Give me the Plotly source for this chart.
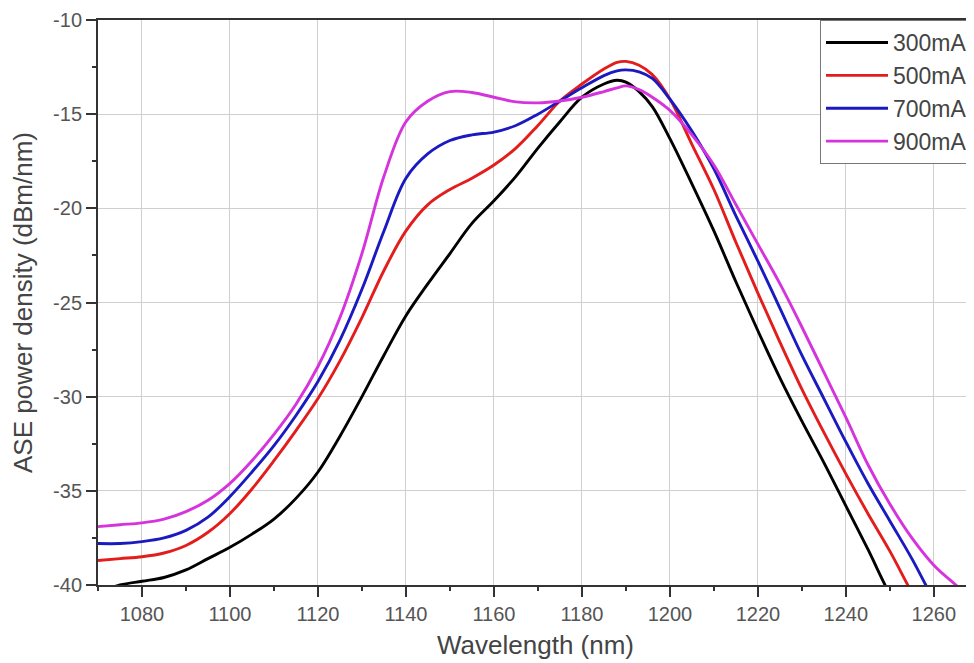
import plotly.graph_objects as go

wavelength = [1070, 1075, 1080, 1085, 1090, 1095, 1100, 1105, 1110, 1115, 1120, 1125, 1130, 1135,
              1140, 1145, 1150, 1155, 1160, 1165, 1170, 1175, 1180, 1185, 1188, 1190, 1193, 1196,
              1200, 1205, 1210, 1215, 1220, 1225, 1230, 1235, 1240, 1245, 1250, 1255, 1260, 1265, 1270]

p300 = [-40.4, -40.0, -39.8, -39.6, -39.2, -38.6, -38.0, -37.3, -36.5, -35.4, -34.0, -32.1, -30.0, -27.8,
        -25.7, -24.0, -22.4, -20.8, -19.6, -18.3, -16.8, -15.4, -14.1, -13.4, -13.2, -13.3, -13.8, -14.6,
        -16.3, -18.7, -21.2, -23.9, -26.5, -29.0, -31.3, -33.5, -35.8, -38.1, -40.5, -42.5, -44.5, -46.5, -48.5]

p500 = [-38.7, -38.6, -38.5, -38.3, -37.9, -37.2, -36.2, -34.9, -33.4, -31.8, -30.1, -28.1, -25.8, -23.3,
        -21.2, -19.8, -19.0, -18.4, -17.7, -16.8, -15.6, -14.3, -13.4, -12.6, -12.25, -12.2, -12.4, -12.9,
        -14.2, -16.6, -19.0, -21.8, -24.5, -27.1, -29.6, -31.9, -34.1, -36.2, -38.2, -40.4, -42.4, -44.4, -46.4]

p700 = [-37.8, -37.8, -37.7, -37.5, -37.1, -36.4, -35.3, -34.0, -32.6, -31.0, -29.2, -27.0, -24.3, -21.2,
        -18.4, -17.1, -16.4, -16.1, -15.95, -15.6, -15.0, -14.3, -13.6, -12.95, -12.7, -12.65, -12.75, -13.1,
        -14.2, -15.9, -17.9, -20.4, -22.8, -25.3, -27.8, -30.1, -32.4, -34.6, -36.6, -38.6, -40.8, -42.8, -44.8]

p900 = [-36.9, -36.8, -36.7, -36.5, -36.1, -35.5, -34.6, -33.4, -32.0, -30.4, -28.4, -25.8, -22.4, -18.3,
        -15.4, -14.3, -13.8, -13.85, -14.1, -14.35, -14.4, -14.3, -14.1, -13.8, -13.6, -13.5, -13.7, -14.1,
        -14.8, -16.1, -17.7, -19.8, -21.9, -24.0, -26.3, -28.7, -31.1, -33.6, -35.7, -37.5, -38.95, -40.0, -41.0]

series_names = ["300mA", "500mA", "700mA", "900mA"]
series_values = [p300, p500, p700, p900]
series_colors = ["#000000", "#e31c1c", "#1a1ac0", "#d534dc"]

x_ticks = [1080, 1100, 1120, 1140, 1160, 1180, 1200, 1220, 1240, 1260]
y_ticks = [-40, -35, -30, -25, -20, -15, -10]
y_tick_text = ["-40", "-35", "-30", "-25", "-20", "-15", "-10"]

fig = go.Figure()
for name, vals, col in zip(series_names, series_values, series_colors):
    fig.add_trace(go.Scatter(x=wavelength, y=vals, mode="lines", name=name,
                             line=dict(color=col, width=2.9, shape="spline", smoothing=1.0)))

axis_common = dict(
    showline=True, linecolor="#333333", linewidth=2, mirror=True,
    showgrid=True, gridcolor="#cfcfcf", gridwidth=1,
    ticks="outside", ticklen=10, tickwidth=1.5, tickcolor="#333333",
    tickfont=dict(family="Liberation Sans, Arial, sans-serif", size=20, color="#555555"),
    zeroline=False, automargin=False,
)

# page body has an 8px margin, so the figure is offset by 8px inside the 974x663 window
fig.update_layout(
    width=966, height=655,
    paper_bgcolor="white", plot_bgcolor="white",
    margin=dict(l=90, r=1, t=12, b=78),
    font=dict(family="Liberation Sans, Arial, sans-serif", color="#444444"),
    xaxis=dict(range=[1070, 1268.9], tickvals=x_ticks,
               minor=dict(dtick=10, tick0=1070, ticks="outside", ticklen=4, tickcolor="#333333", showgrid=False),
               title=dict(text="Wavelength (nm)", font=dict(size=26, color="#444444"), standoff=12),
               **axis_common),
    yaxis=dict(range=[-40, -10], tickvals=y_ticks, ticktext=y_tick_text,
               minor=dict(dtick=2.5, tick0=-40, ticks="outside", ticklen=4, tickcolor="#333333", showgrid=False),
               title=dict(text="ASE power density (dBm/nm)", font=dict(size=26, color="#444444"), standoff=18),
               **axis_common),
    legend=dict(x=1.0, xanchor="right", y=1.0, yanchor="top",
                bgcolor="white", bordercolor="#777777", borderwidth=1,
                font=dict(size=23, color="#444444"), itemwidth=62,
                tracegroupgap=0),
    showlegend=True,
)

fig.write_html("out.html")
